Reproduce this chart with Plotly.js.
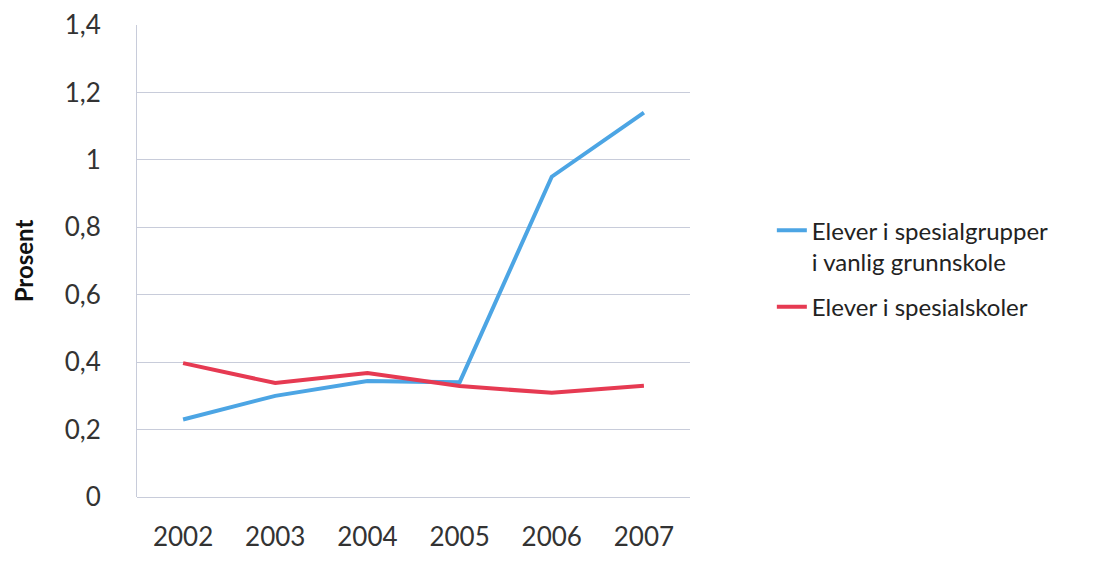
<!DOCTYPE html>
<html>
<head>
<meta charset="utf-8">
<script src="https://cdn.plot.ly/plotly-3.0.1.min.js"></script>
<style>html,body{margin:0;padding:0;background:#fff;}#chart{width:1116px;height:564px;}</style>
</head>
<body>
<div id="chart"></div>
<script>
const years = ["2002", "2003", "2004", "2005", "2006", "2007"];
const spesialgrupper = [0.23, 0.30, 0.344, 0.34, 0.95, 1.14];
const spesialskoler = [0.397, 0.338, 0.368, 0.329, 0.309, 0.33];
const seriesNames = ["Elever i spesialgrupper<br>i vanlig grunnskole", "Elever i spesialskoler"];
const yTickVals = [0, 0.2, 0.4, 0.6, 0.8, 1, 1.2, 1.4];
const yTickText = ["0", "0,2", "0,4", "0,6", "0,8", "1", "1,2", "1,4"];
const yTitle = "Prosent";

const font = "Lato, 'Open Sans', sans-serif";
const gridColor = "#c8ccda";

const traces = [
  {x: years, y: spesialgrupper, name: seriesNames[0], legendgroup: "a", type: "scatter", mode: "lines",
   line: {color: "#4ca5e4", width: 4}},
  {x: years, y: spesialskoler, name: seriesNames[1], legendgroup: "b", type: "scatter", mode: "lines",
   line: {color: "#e63a52", width: 4}}
];

const layout = {
  width: 1116, height: 564,
  margin: {l: 137, r: 426, t: 25, b: 67, pad: 0},
  paper_bgcolor: "#fff", plot_bgcolor: "#fff",
  font: {family: font, size: 26, color: "#333"},
  showlegend: true,
  legend: {x: 1.148, y: 0.612, xanchor: "left", yanchor: "top", valign: "top",
           font: {family: font, size: 24, color: "#222"},
           tracegroupgap: 11, bgcolor: "rgba(0,0,0,0)"},
  xaxis: {type: "category", range: [-0.5, 5.5], showgrid: false, zeroline: false, showline: false,
          ticks: "", tickfont: {size: 26, color: "#333"}, ticklabelstandoff: 22},
  yaxis: {range: [0, 1.4], tickvals: yTickVals, ticktext: yTickText,
          showgrid: true, gridcolor: gridColor, gridwidth: 1,
          zeroline: true, zerolinecolor: gridColor, zerolinewidth: 1,
          showline: true, linecolor: gridColor, linewidth: 1,
          ticks: "", tickfont: {size: 26, color: "#333"}, ticklabelstandoff: 30,
          title: {text: yTitle, font: {size: 24, color: "#111", weight: "bold"}, standoff: 24}}
};

Plotly.newPlot("chart", traces, layout, {displayModeBar: false, staticPlot: true});
</script>
</body>
</html>
